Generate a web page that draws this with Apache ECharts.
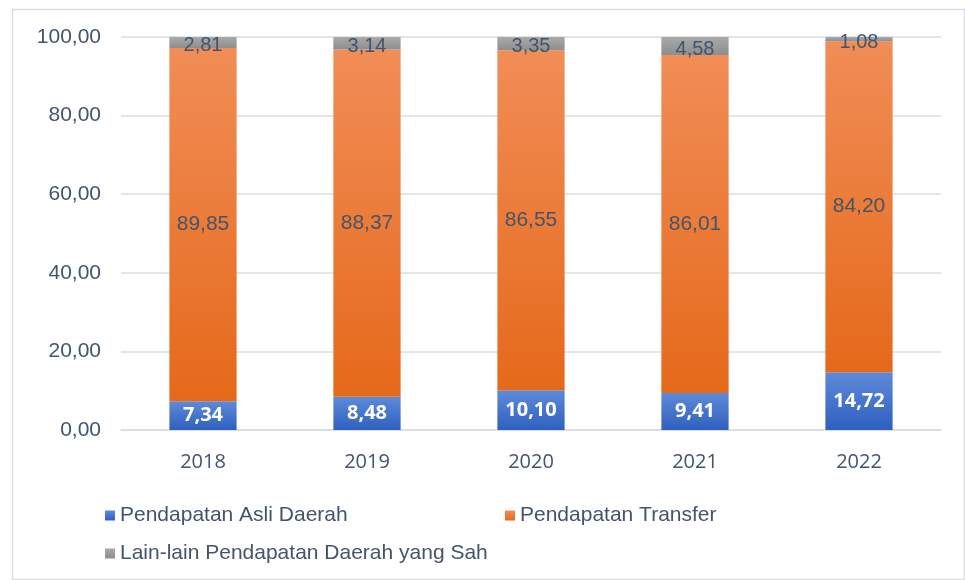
<!DOCTYPE html>
<html>
<head>
<meta charset="utf-8">
<script src="https://cdn.jsdelivr.net/npm/echarts@6/dist/echarts.min.js"></script>
<style>
  html, body { margin: 0; padding: 0; background: #fff; }
  #chart { width: 965px; height: 580px; }
</style>
</head>
<body>
<div id="chart"></div>
<script>
const years = ['2018', '2019', '2020', '2021', '2022'];
const pad = [7.34, 8.48, 10.10, 9.41, 14.72];
const transfer = [89.85, 88.37, 86.55, 86.01, 84.20];
const lainLain = [2.81, 3.14, 3.35, 4.58, 1.08];
const yTicks = [0, 20, 40, 60, 80, 100];

const names = ['Pendapatan Asli Daerah', 'Pendapatan Transfer', 'Lain-lain Pendapatan Daerah yang Sah'];
const textColor = '#44546A';

function fmt(v) { return Number(v).toFixed(2).replace('.', ','); }
function grad(top, bottom) {
  return new echarts.graphic.LinearGradient(0, 0, 0, 1, [{ offset: 0, color: top }, { offset: 1, color: bottom }]);
}
const legendText = { color: textColor, fontSize: 21, fontFamily: 'Liberation Sans' };

const chart = echarts.init(document.getElementById('chart'));
chart.setOption({
  animation: false,
  graphic: [{
    type: 'rect', left: 10, top: 7,
    shape: { width: 952, height: 570 },
    style: { fill: 'none', stroke: '#D9DDE3', lineWidth: 1.5 }
  }],
  grid: { left: 121, right: 24, top: 37, bottom: 150 },
  legend: [
    { data: [names[0]], left: 100, top: 500, itemWidth: 10, itemHeight: 10, itemGap: 4, icon: 'rect', textStyle: legendText },
    { data: [names[1]], left: 500, top: 500, itemWidth: 10, itemHeight: 10, itemGap: 4, icon: 'rect', textStyle: legendText },
    { data: [names[2]], left: 100, top: 538, itemWidth: 10, itemHeight: 10, itemGap: 4, icon: 'rect', textStyle: legendText }
  ],
  xAxis: {
    type: 'category', data: years,
    axisLine: { lineStyle: { color: '#D9DDE3', width: 1.5 } },
    axisTick: { show: false },
    axisLabel: { color: textColor, fontSize: 20, fontFamily: 'Open Sans', margin: 22 }
  },
  yAxis: {
    type: 'value', min: 0, max: 100, interval: 20,
    axisLine: { show: false }, axisTick: { show: false },
    splitLine: { lineStyle: { color: '#D9DDE3', width: 1.5 } },
    axisLabel: { color: textColor, fontSize: 21, fontFamily: 'Liberation Sans', margin: 20, formatter: v => yTicks.includes(v) ? fmt(v) : '' }
  },
  series: [
    {
      name: names[0], type: 'bar', stack: 'total', barWidth: '41%', data: pad,
      itemStyle: { color: grad('#5E8AD8', '#2E60C0') },
      label: { show: true, position: 'inside', color: '#fff', fontSize: 20, fontWeight: 'bold', fontFamily: 'Open Sans', formatter: p => fmt(p.value) }
    },
    {
      name: names[1], type: 'bar', stack: 'total', data: transfer,
      itemStyle: { color: grad('#F18D57', '#E5691A') },
      label: { show: true, position: 'inside', color: textColor, fontSize: 21, fontFamily: 'Liberation Sans', formatter: p => fmt(p.value) }
    },
    {
      name: names[2], type: 'bar', stack: 'total', data: lainLain,
      itemStyle: { color: grad('#A9A9A9', '#8E8E8E') },
      label: { show: true, position: 'inside', offset: [0, 3], color: textColor, fontSize: 20, fontFamily: 'Liberation Sans', formatter: p => fmt(p.value) }
    }
  ]
});
</script>
</body>
</html>
